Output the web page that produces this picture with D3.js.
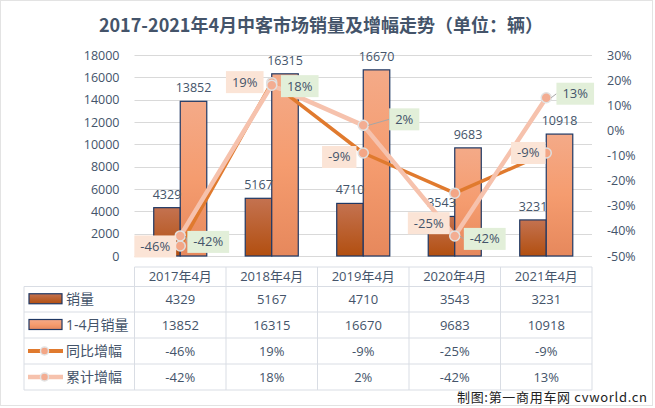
<!DOCTYPE html>
<html><head><meta charset="utf-8">
<script src="https://cdn.jsdelivr.net/npm/d3@7"></script>
<style>
html,body{margin:0;padding:0;background:#fff;}
svg{display:block;}
text{font-family:"Open Sans","Noto Sans CJK SC",sans-serif;}
</style></head>
<body>
<svg id="chart" width="655" height="408"></svg>
<script>
// ---- data ----
const title = "2017-2021年4月中客市场销量及增幅走势（单位：辆）";
const categories = ["2017年4月","2018年4月","2019年4月","2020年4月","2021年4月"];
const seriesNames = ["销量","1-4月销量","同比增幅","累计增幅"];
const monthlySales = [4329,5167,4710,3543,3231];
const ytdSales = [13852,16315,16670,9683,10918];
const yoyGrowth = [-46,19,-9,-25,-9];
const ytdGrowth = [-42,18,2,-42,13];
const leftTicks = [0,2000,4000,6000,8000,10000,12000,14000,16000,18000];
const rightTicks = [-50,-40,-30,-20,-10,0,10,20,30];
const sourceText = "制图:第一商用车网 cvworld.cn";

// ---- layout (label placement, not data) ----
const yoyLabelOffset = [[-25,0.5],[-27,-0.5],[-24,4],[-26,30],[-18,0]];
const ytdLabelOffset = [[28,6],[28,1],[41,-6],[30,3],[29,-4]];

const svg = d3.select("#chart");
const textColor = "#44546a";
const gridColor = "#d9d9d9";
const plotL = 134.5, plotR = 592, plotT = 55, plotB = 256;

// gradients
const defs = svg.append("defs");
const g1 = defs.append("linearGradient").attr("id","gDark").attr("x1",0).attr("y1",0).attr("x2",0).attr("y2",1);
g1.append("stop").attr("offset","0%").attr("stop-color","#c47250");
g1.append("stop").attr("offset","100%").attr("stop-color","#b24f10");
const g2 = defs.append("linearGradient").attr("id","gLight").attr("x1",0).attr("y1",0).attr("x2",0).attr("y2",1);
g2.append("stop").attr("offset","0%").attr("stop-color","#f4aa88");
g2.append("stop").attr("offset","50%").attr("stop-color","#f59c6f");
g2.append("stop").attr("offset","100%").attr("stop-color","#e6885c");

// border
svg.append("rect").attr("x",0.5).attr("y",0.5).attr("width",652).attr("height",405)
  .attr("fill","#fff").attr("stroke","#e3e3e3");

// title
svg.append("text").attr("x",321).attr("y",32).attr("text-anchor","middle")
  .attr("font-size",18).attr("font-weight","bold").attr("fill",textColor)
  .style("font-family","'Noto Sans CJK SC',sans-serif").text(title);

// scales
const x0 = d3.scaleBand().domain(categories).range([plotL, plotR]).paddingInner(0).paddingOuter(0);
const x1 = d3.scaleBand().domain([0,1]).range([0, x0.bandwidth()]).paddingInner(0).paddingOuter(0.725);
const yL = d3.scaleLinear().domain([0,18000]).range([plotB, plotT]);
const yR = d3.scaleLinear().domain([-50,30]).range([plotB, plotT]);

// grid
svg.append("g").selectAll("line").data(leftTicks).join("line")
  .attr("x1",plotL).attr("x2",plotR)
  .attr("y1",d=>Math.round(yL(d))+0.5).attr("y2",d=>Math.round(yL(d))+0.5)
  .attr("stroke",gridColor).attr("stroke-width",1);

// axes
const axL = svg.append("g").attr("transform",`translate(${plotL-15},0)`)
  .call(d3.axisLeft(yL).tickValues(leftTicks).tickSize(0).tickPadding(0).tickFormat(d3.format("d")));
axL.select(".domain").remove();
axL.selectAll("text").attr("font-size",12.5).attr("fill",textColor)
  .style("font-family","'Open Sans',sans-serif");
const axR = svg.append("g").attr("transform",`translate(${plotR+15},0)`)
  .call(d3.axisRight(yR).tickValues(rightTicks).tickSize(0).tickPadding(0).tickFormat(d=>d+"%"));
axR.select(".domain").remove();
axR.selectAll("text").attr("font-size",12.5).attr("fill",textColor)
  .style("font-family","'Open Sans',sans-serif");

// bars
const barData = [];
categories.forEach((c,i)=>{
  barData.push({c, k:0, v:monthlySales[i]});
  barData.push({c, k:1, v:ytdSales[i]});
});
svg.append("g").selectAll("rect").data(barData).join("rect")
  .attr("x",d=>x0(d.c)+x1(d.k)).attr("width",x1.bandwidth())
  .attr("y",d=>yL(d.v)).attr("height",d=>plotB-yL(d.v))
  .attr("fill",d=>d.k===0?"url(#gDark)":"url(#gLight)")
  .attr("stroke","#1f3864").attr("stroke-width",1.2);

// bar labels
svg.append("g").selectAll("text").data(barData).join("text")
  .attr("x",d=>x0(d.c)+x1(d.k)+x1.bandwidth()/2).attr("y",d=>yL(d.v)-9)
  .attr("text-anchor","middle").attr("font-size",12.5).attr("fill",textColor)
  .text(d=>d.v);

// lines
const cx = c => x0(c)+x0.bandwidth()/2;
const lineGen = d3.line().x(d=>cx(d.c)).y(d=>yR(d.v));
const yoyPts = categories.map((c,i)=>({c,v:yoyGrowth[i],i}));
const ytdPts = categories.map((c,i)=>({c,v:ytdGrowth[i],i}));
svg.append("path").datum(yoyPts).attr("d",lineGen).attr("fill","none")
  .attr("stroke","#e07a2e").attr("stroke-width",3.5).attr("stroke-linejoin","round");
svg.append("g").selectAll("circle").data(yoyPts).join("circle")
  .attr("cx",d=>cx(d.c)).attr("cy",d=>yR(d.v)).attr("r",5)
  .attr("fill","#f3a686").attr("stroke","#dedede").attr("stroke-width",1.5);
svg.append("path").datum(ytdPts).attr("d",lineGen).attr("fill","none")
  .attr("stroke","#f6c2ad").attr("stroke-width",4.5).attr("stroke-linejoin","round");
svg.append("g").selectAll("circle").data(ytdPts).join("circle")
  .attr("cx",d=>cx(d.c)).attr("cy",d=>yR(d.v)).attr("r",5)
  .attr("fill","#f3ad92").attr("stroke","#e2e2e2").attr("stroke-width",1.5);

// line labels
function drawLabels(pts, offsets, fill, leader){
  const g = svg.append("g");
  pts.forEach(p=>{
    const px = cx(p.c), py = yR(p.v);
    const bx = px + offsets[p.i][0], by = py + offsets[p.i][1];
    const gg = g.append("g");
    const rect = gg.append("rect");
    const t = gg.append("text").attr("x",bx).attr("y",by+4.5).attr("text-anchor","middle")
      .attr("font-size",13).attr("fill",textColor).text(p.v+"%");
    const w = t.node().getComputedTextLength()+12, h = 22;
    rect.attr("x",bx-w/2).attr("y",by-h/2).attr("width",w).attr("height",h).attr("fill",fill);
    if (leader && Math.abs(offsets[p.i][1])>=3){
      g.insert("line",":first-child").attr("x1",px+5).attr("y1",py)
        .attr("x2",bx-w/2).attr("y2",by).attr("stroke","#a6a6a6").attr("stroke-width",1);
    }
  });
}
drawLabels(yoyPts, yoyLabelOffset, "#fbe4d6", false);
drawLabels(ytdPts, ytdLabelOffset, "#e2efd9", true);

// data table
const tColor = "#d9dde4";
const rowLines = [267, 286.5, 312, 338, 364, 390];
const tbl = svg.append("g");
tbl.append("line").attr("x1",plotL).attr("x2",plotR).attr("y1",rowLines[0]).attr("y2",rowLines[0]).attr("stroke",tColor);
rowLines.slice(1).forEach(y=>{
  tbl.append("line").attr("x1",24).attr("x2",plotR).attr("y1",y).attr("y2",y).attr("stroke",tColor);
});
const colEdges = categories.map(c=>x0(c)).concat([plotR]);
colEdges.forEach(x=>{
  tbl.append("line").attr("x1",x).attr("x2",x).attr("y1",rowLines[0]).attr("y2",rowLines[5]).attr("stroke",tColor);
});
tbl.append("line").attr("x1",24).attr("x2",24).attr("y1",rowLines[1]).attr("y2",rowLines[5]).attr("stroke",tColor);

// header
tbl.selectAll("text.hdr").data(categories).join("text").attr("class","hdr")
  .attr("x",d=>cx(d)).attr("y",(rowLines[0]+rowLines[1])/2+4.5).attr("text-anchor","middle")
  .attr("font-size",13).attr("fill",textColor).text(d=>d);

const rows = [
  {name:seriesNames[0], vals:monthlySales.map(String), type:"bar", fill:"url(#gDark)"},
  {name:seriesNames[1], vals:ytdSales.map(String), type:"bar", fill:"url(#gLight)"},
  {name:seriesNames[2], vals:yoyGrowth.map(v=>v+"%"), type:"line", stroke:"#e07a2e", mfill:"#f3a686", sw:4},
  {name:seriesNames[3], vals:ytdGrowth.map(v=>v+"%"), type:"line", stroke:"#f6c2ad", mfill:"#f3ad92", sw:4.5}
];
rows.forEach((r,ri)=>{
  const yc = (rowLines[ri+1]+rowLines[ri+2])/2;
  if (r.type==="bar"){
    tbl.append("rect").attr("x",29).attr("y",yc-5.5).attr("width",33).attr("height",10)
      .attr("fill",r.fill).attr("stroke","#1f3864").attr("stroke-width",1.2);
  } else {
    tbl.append("line").attr("x1",28).attr("x2",63).attr("y1",yc).attr("y2",yc)
      .attr("stroke",r.stroke).attr("stroke-width",r.sw);
    tbl.append("circle").attr("cx",44.5).attr("cy",yc).attr("r",4)
      .attr("fill",r.mfill).attr("stroke","#e2e2e2").attr("stroke-width",1.5);
  }
  tbl.append("text").attr("x",66).attr("y",yc+5).attr("font-size",14).attr("fill",textColor)
    .style("font-family","'Open Sans','Noto Sans CJK SC',sans-serif").text(r.name);
  categories.forEach((c,i)=>{
    tbl.append("text").attr("x",cx(c)).attr("y",yc+4.5).attr("text-anchor","middle")
      .attr("font-size",13).attr("fill",textColor).text(r.vals[i]);
  });
});

// source
svg.append("text").attr("x",647).attr("y",402).attr("text-anchor","end")
  .attr("font-size",13).attr("fill","#222")
  .attr("textLength",190).attr("lengthAdjust","spacing")
  .style("font-family","'Noto Sans CJK SC',sans-serif").text(sourceText);
</script>
</body></html>
